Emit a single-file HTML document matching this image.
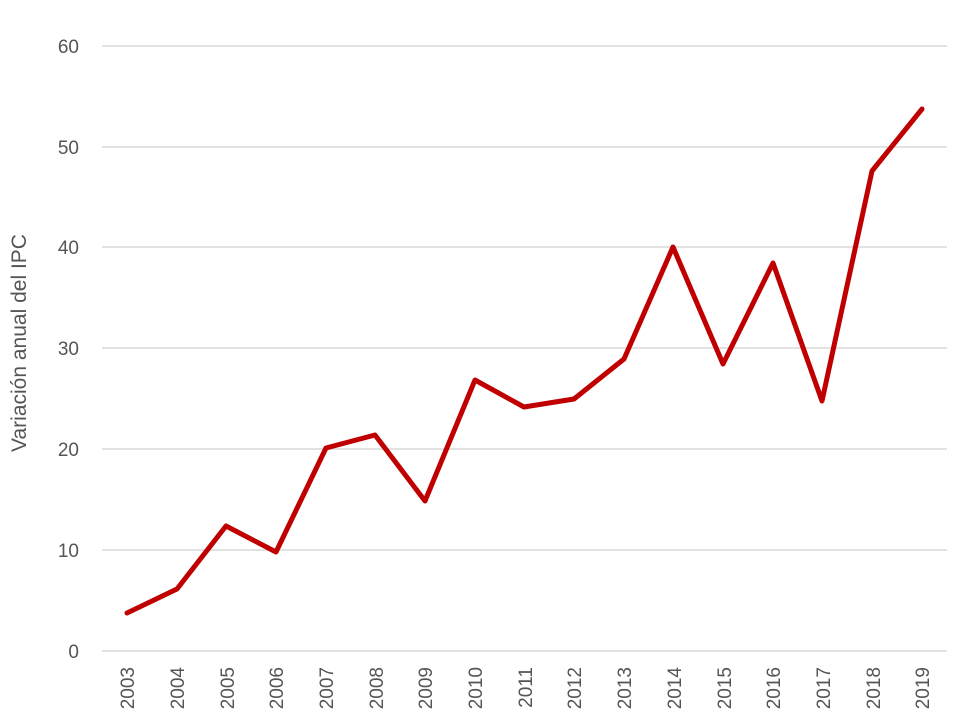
<!DOCTYPE html>
<html><head><style>body{margin:0;background:#fff}svg{display:block}text{font-family:"Liberation Sans",sans-serif;fill:#555;font-size:19px}</style></head>
<body>
<svg width="957" height="726" viewBox="0 0 957 726">
<g stroke="#d9d9d9" stroke-width="1.5">
<line x1="102" x2="947" y1="46" y2="46"/><line x1="102" x2="947" y1="147" y2="147"/>
<line x1="102" x2="947" y1="247" y2="247"/><line x1="102" x2="947" y1="348" y2="348"/>
<line x1="102" x2="947" y1="449" y2="449"/><line x1="102" x2="947" y1="550" y2="550"/>
<line x1="102" x2="947" y1="651" y2="651"/>
</g>
<g text-anchor="end">
<text x="79" y="53">60</text><text x="79" y="154">50</text><text x="79" y="254">40</text>
<text x="79" y="355">30</text><text x="79" y="456">20</text><text x="79" y="557">10</text><text x="79" y="658">0</text>
</g>
<text transform="translate(26,343) rotate(-90)" text-anchor="middle" style="font-size:21px">Variación anual del IPC</text>
<g text-anchor="end" style="font-size:20px">
<text transform="translate(134,667) rotate(-90)">2003</text>
<text transform="translate(184,667) rotate(-90)">2004</text>
<text transform="translate(234,667) rotate(-90)">2005</text>
<text transform="translate(283,667) rotate(-90)">2006</text>
<text transform="translate(333,667) rotate(-90)">2007</text>
<text transform="translate(383,667) rotate(-90)">2008</text>
<text transform="translate(432,667) rotate(-90)">2009</text>
<text transform="translate(482,667) rotate(-90)">2010</text>
<text transform="translate(532,667) rotate(-90)">2011</text>
<text transform="translate(581,667) rotate(-90)">2012</text>
<text transform="translate(631,667) rotate(-90)">2013</text>
<text transform="translate(681,667) rotate(-90)">2014</text>
<text transform="translate(731,667) rotate(-90)">2015</text>
<text transform="translate(780,667) rotate(-90)">2016</text>
<text transform="translate(830,667) rotate(-90)">2017</text>
<text transform="translate(880,667) rotate(-90)">2018</text>
<text transform="translate(929,667) rotate(-90)">2019</text>
</g>
<polyline fill="none" stroke="#c00000" stroke-width="5" stroke-linejoin="round" stroke-linecap="round"
points="127,613 177,589 226,526 276,552 326,448 375,435 425,501 475,380 524,407 574,399 624,359 673,247 723,364 773,263 822,401 872,171 922,109"/>
</svg>
</body></html>
